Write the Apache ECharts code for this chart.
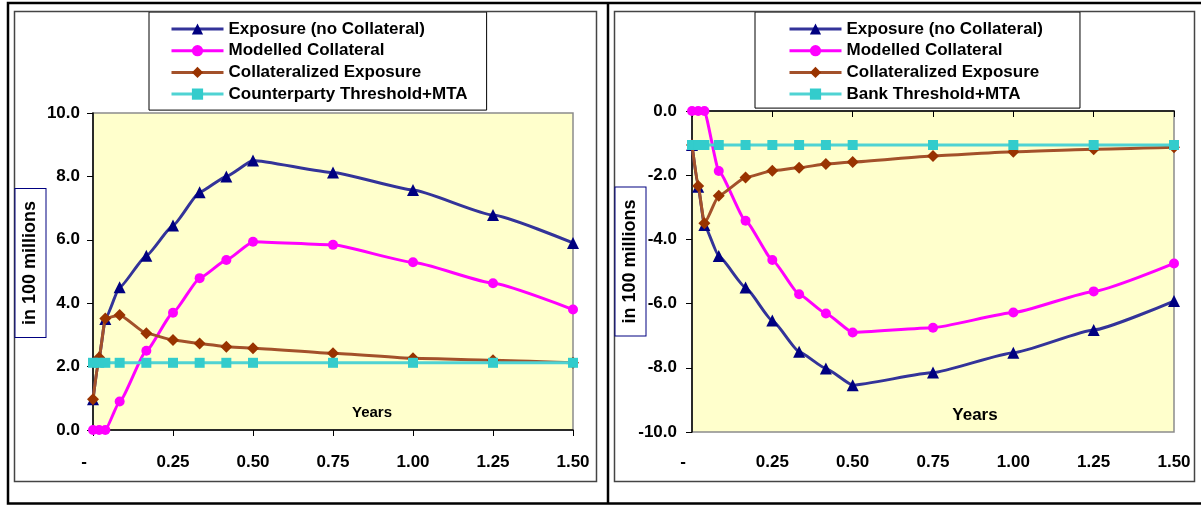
<!DOCTYPE html>
<html><head><meta charset="utf-8">
<script src="https://cdn.jsdelivr.net/npm/echarts@6/dist/echarts.min.js"></script>
<style>html,body{margin:0;padding:0;background:#fff}#c{width:1201px;height:506px}</style>
</head><body><div id="c"></div>
<script>
// ---- data ----
const years = [0, 0.0192, 0.0385, 0.0833, 0.1667, 0.25, 0.3333, 0.4167, 0.5, 0.75, 1.0, 1.25, 1.5];

// Left chart (counterparty side), in 100 millions
const leftExposure   = [0.97, 2.29, 3.5, 4.5, 5.5, 6.45, 7.5, 8.0, 8.5, 8.12, 7.57, 6.78, 5.9];
const leftCollateral = [0, 0, 0, 0.9, 2.5, 3.7, 4.79, 5.36, 5.94, 5.84, 5.29, 4.63, 3.8];
const leftCollExp    = [0.97, 2.29, 3.52, 3.63, 3.05, 2.84, 2.73, 2.63, 2.58, 2.42, 2.26, 2.2, 2.12];
const leftThreshold  = [2.12, 2.12, 2.12, 2.12, 2.12, 2.12, 2.12, 2.12, 2.12, 2.12, 2.12, 2.12, 2.12];

// Right chart (bank side), in 100 millions
const rightExposure   = [-1.06, -2.36, -3.55, -4.52, -5.5, -6.53, -7.5, -8.02, -8.54, -8.15, -7.53, -6.82, -5.92];
const rightCollateral = [0, 0, 0, -1.87, -3.42, -4.64, -5.71, -6.31, -6.9, -6.75, -6.28, -5.62, -4.75];
const rightCollExp    = [-1.06, -2.34, -3.5, -2.64, -2.07, -1.86, -1.77, -1.65, -1.59, -1.4, -1.27, -1.19, -1.13];
const rightThreshold  = [-1.06, -1.06, -1.06, -1.06, -1.06, -1.06, -1.06, -1.06, -1.06, -1.06, -1.06, -1.06, -1.06];

const xTickLabels = ['-', '0.25', '0.50', '0.75', '1.00', '1.25', '1.50'];
const leftNames  = ['Exposure (no Collateral)', 'Modelled Collateral', 'Collateralized Exposure', 'Counterparty Threshold+MTA'];
const rightNames = ['Exposure (no Collateral)', 'Modelled Collateral', 'Collateralized Exposure', 'Bank Threshold+MTA'];
const yAxisTitle = 'in 100 millions';
const xAxisTitle = 'Years';

// ---- styling ----
const FONT = '"Liberation Sans", Arial, sans-serif';
const styles = [
  {symbol: 'triangle', size: 12, line: '#333399', mark: '#000080'},
  {symbol: 'circle',   size: 10, line: '#FF00FF', mark: '#FF00FF'},
  {symbol: 'diamond',  size: 12, line: '#A3512A', mark: '#993300'},
  {symbol: 'rect',     size: 10, line: '#4FD3D3', mark: '#33CCCC'}
];

function pairs(vals) { return years.map((x, i) => [x, vals[i]]); }
function mkSeries(name, vals, k, idx) {
  const s = styles[k];
  return {
    type: 'line', name, data: pairs(vals), xAxisIndex: idx, yAxisIndex: idx,
    symbol: s.symbol, symbolSize: s.size, showAllSymbol: true,
    smooth: 0.15, smoothMonotone: 'x',
    lineStyle: {color: s.line, width: 3},
    itemStyle: {color: s.mark},
    emphasis: {disabled: true}, z: 3 + k
  };
}

const labelStyle = {fontFamily: FONT, fontWeight: 'bold', fontSize: 17, color: '#000'};
function xLabel(v) {
  const t = xTickLabels[Math.round(v / 0.25)];
  return t === '-' ? '{d|-}' : t;
}
const xRich = {d: {fontFamily: FONT, fontWeight: 'bold', fontSize: 17, color: '#000', padding: [0, 18, 0, 0]}};

function legend(names, left, padding) {
  return {
    data: names, orient: 'vertical', left, top: 12, padding,
    itemWidth: 52, itemHeight: 14, itemGap: 3.7,
    lineStyle: {width: 3},
    backgroundColor: '#fff', borderColor: '#000', borderWidth: 1,
    textStyle: {fontFamily: FONT, fontWeight: 'bold', fontSize: 17, color: '#000', lineHeight: 18},
    selectedMode: false
  };
}

const option = {
  animation: false,
  backgroundColor: '#fff',
  legend: [
    legend(leftNames, 149, [8, 19, 7, 21]),
    legend(rightNames, 755, [8, 37, 5, 33])
  ],
  grid: [
    {left: 93, top: 113, width: 480, height: 317, show: true, backgroundColor: '#FFFFCC', borderColor: '#8C8C8C', borderWidth: 1.5},
    {left: 692, top: 111, width: 482, height: 321, show: true, backgroundColor: '#FFFFCC', borderColor: '#8C8C8C', borderWidth: 1.5}
  ],
  xAxis: [
    {gridIndex: 0, type: 'value', min: 0, max: 1.5, interval: 0.25,
     axisLine: {show: true, onZero: false, lineStyle: {color: '#000', width: 1.5}},
     axisTick: {show: true, inside: false, length: 6, lineStyle: {color: '#000'}},
     axisLabel: Object.assign({margin: 24, formatter: xLabel, rich: xRich}, labelStyle),
     splitLine: {show: false}},
    {gridIndex: 1, type: 'value', min: 0, max: 1.5, interval: 0.25, position: 'bottom',
     axisLine: {show: false}, axisTick: {show: false},
     axisLabel: Object.assign({margin: 22, formatter: xLabel, rich: xRich}, labelStyle),
     splitLine: {show: false}},
    {gridIndex: 1, type: 'value', min: 0, max: 1.5, interval: 0.25, position: 'top',
     axisLine: {show: true, onZero: false, lineStyle: {color: '#000', width: 1.5}},
     axisTick: {show: true, inside: true, length: 6, lineStyle: {color: '#000'}},
     axisLabel: {show: false}, splitLine: {show: false}}
  ],
  yAxis: [
    {gridIndex: 0, type: 'value', min: 0, max: 10, interval: 2,
     axisLine: {show: true, onZero: false, lineStyle: {color: '#000', width: 1.5}},
     axisTick: {show: true, length: 6, lineStyle: {color: '#000'}},
     axisLabel: Object.assign({margin: 13, formatter: v => v.toFixed(1)}, labelStyle),
     splitLine: {show: false}},
    {gridIndex: 1, type: 'value', min: -10, max: 0, interval: 2,
     axisLine: {show: true, onZero: false, lineStyle: {color: '#000', width: 1.5}},
     axisTick: {show: true, length: 6, lineStyle: {color: '#000'}},
     axisLabel: Object.assign({margin: 15, formatter: v => v.toFixed(1)}, labelStyle),
     splitLine: {show: false}}
  ],
  series: [
    mkSeries(leftNames[0], leftExposure, 0, 0),
    mkSeries(leftNames[1], leftCollateral, 1, 0),
    mkSeries(leftNames[2], leftCollExp, 2, 0),
    mkSeries(leftNames[3], leftThreshold, 3, 0),
    mkSeries(rightNames[0], rightExposure, 0, 1),
    mkSeries(rightNames[1], rightCollateral, 1, 1),
    mkSeries(rightNames[2], rightCollExp, 2, 1),
    mkSeries(rightNames[3], rightThreshold, 3, 1)
  ],
  graphic: [
    {type: 'rect', z: 100, silent: true, shape: {x: 8, y: 3, width: 1200, height: 500.5}, style: {fill: null, stroke: '#000', lineWidth: 2.5}},
    {type: 'line', z: 100, silent: true, shape: {x1: 608, y1: 3, x2: 608, y2: 503.5}, style: {stroke: '#000', lineWidth: 2.5}},
    {type: 'rect', z: 100, silent: true, shape: {x: 14.5, y: 11.5, width: 582, height: 470}, style: {fill: null, stroke: '#444', lineWidth: 1.5}},
    {type: 'rect', z: 100, silent: true, shape: {x: 614.5, y: 11.5, width: 580, height: 470}, style: {fill: null, stroke: '#444', lineWidth: 1.5}},
    {type: 'text', z: 100, silent: true, x: 30.5, y: 263, rotation: Math.PI / 2,
     style: {text: yAxisTitle, font: 'bold 18px ' + FONT, fill: '#000', align: 'center', verticalAlign: 'middle',
             padding: [6, 12, 6, 12], borderColor: '#000080', borderWidth: 1, backgroundColor: '#fff'}},
    {type: 'text', z: 100, silent: true, x: 630.5, y: 261.5, rotation: Math.PI / 2,
     style: {text: yAxisTitle, font: 'bold 18px ' + FONT, fill: '#000', align: 'center', verticalAlign: 'middle',
             padding: [6, 12, 6, 12], borderColor: '#000080', borderWidth: 1, backgroundColor: '#fff'}},
    {type: 'text', z: 100, silent: true, x: 372, y: 413,
     style: {text: xAxisTitle, font: 'bold 15px ' + FONT, fill: '#000', align: 'center', verticalAlign: 'middle'}},
    {type: 'text', z: 100, silent: true, x: 975, y: 415,
     style: {text: xAxisTitle, font: 'bold 17px ' + FONT, fill: '#000', align: 'center', verticalAlign: 'middle'}}
  ]
};

const chart = echarts.init(document.getElementById('c'), null, {renderer: 'canvas'});
chart.setOption(option);
</script>
</body></html>
